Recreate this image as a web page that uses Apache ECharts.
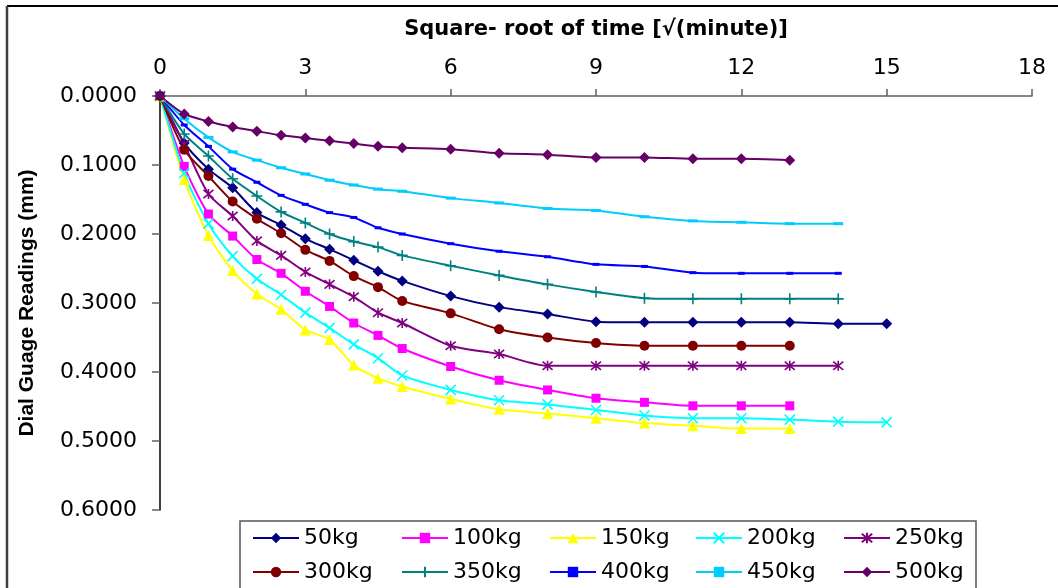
<!DOCTYPE html>
<html>
<head>
<meta charset="utf-8">
<script src="https://cdn.jsdelivr.net/npm/echarts@6/dist/echarts.min.js"></script>
<style>
html,body{margin:0;padding:0;background:#fff;}
#chart{width:1058px;height:588px;}
</style>
</head>
<body>
<div id="chart"></div>
<script>
// Square-root of time values (x)
var sqrtTime = [0,0.5,1,1.5,2,2.5,3,3.5,4,4.5,5,6,7,8,9,10,11,12,13,14,15];
var xTicks = [0,3,6,9,12,15,18];
var yTicks = [0,0.1,0.2,0.3,0.4,0.5,0.6];
var seriesNames = ['50kg','100kg','150kg','200kg','250kg','300kg','350kg','400kg','450kg','500kg'];

var v50  = [0,0.068,0.106,0.133,0.169,0.187,0.207,0.222,0.238,0.254,0.268,0.290,0.306,0.316,0.327,0.328,0.328,0.328,0.328,0.330,0.330];
var v100 = [0,0.102,0.171,0.203,0.237,0.257,0.283,0.305,0.329,0.347,0.366,0.392,0.412,0.426,0.438,0.444,0.449,0.449,0.449];
var v150 = [0,0.121,0.202,0.253,0.287,0.309,0.339,0.353,0.390,0.409,0.421,0.439,0.454,0.460,0.467,0.474,0.478,0.482,0.482];
var v200 = [0,0.112,0.185,0.232,0.265,0.288,0.314,0.336,0.360,0.380,0.405,0.426,0.441,0.447,0.455,0.463,0.467,0.467,0.469,0.472,0.473];
var v250 = [0,0.070,0.142,0.174,0.210,0.231,0.255,0.273,0.291,0.314,0.329,0.362,0.374,0.391,0.391,0.391,0.391,0.391,0.391,0.391];
var v300 = [0,0.078,0.116,0.153,0.178,0.199,0.223,0.239,0.261,0.277,0.297,0.315,0.338,0.350,0.358,0.362,0.362,0.362,0.362];
var v350 = [0,0.055,0.087,0.120,0.145,0.168,0.184,0.200,0.211,0.219,0.231,0.246,0.260,0.273,0.284,0.293,0.294,0.294,0.294,0.294];
var v400 = [0,0.042,0.073,0.106,0.125,0.144,0.157,0.169,0.176,0.191,0.200,0.214,0.225,0.233,0.244,0.247,0.256,0.257,0.257,0.257];
var v450 = [0,0.033,0.060,0.081,0.093,0.104,0.113,0.122,0.129,0.135,0.138,0.148,0.155,0.163,0.166,0.175,0.181,0.183,0.185,0.185];
var v500 = [0,0.026,0.037,0.045,0.051,0.057,0.061,0.065,0.069,0.073,0.075,0.077,0.083,0.085,0.089,0.089,0.091,0.091,0.093];

var allValues = [v50,v100,v150,v200,v250,v300,v350,v400,v450,v500];
var colors = ['#000080','#FF00FF','#FFFF00','#00FFFF','#800080','#800000','#008080','#0000FF','#00CCFF','#660066'];
var symbols = ['diamond','rect','triangle',
  'path://M0,0L10,10M10,0L0,10',
  'path://M0,0L10,10M10,0L0,10M5,-1L5,11',
  'circle',
  'path://M5,0L5,10M0,5L10,5',
  'rect','rect','diamond'];
var symbolSizes = [11,9,11,10,10,10,11,[7,3],[10,3],11];
var strokeOnly = [false,false,false,true,true,false,true,false,false,false];

function pairs(vals){
  var out=[];
  for(var i=0;i<vals.length;i++){ out.push([sqrtTime[i], vals[i]]); }
  return out;
}

var series = seriesNames.map(function(n,i){
  var it = {color: colors[i]};
  if(strokeOnly[i]){ it = {color: colors[i], borderColor: colors[i], borderWidth: 1.6}; }
  return {
    name:n, type:'line', data: pairs(allValues[i]),
    smooth:0.25, symbol: symbols[i], symbolSize: symbolSizes[i],
    showAllSymbol:true,
    lineStyle:{color:colors[i], width:2},
    itemStyle: it,
    emphasis:{disabled:true}
  };
});

var legendLeft = [252,401,549,695,843];
var legendTop = [527,561];
var legends = seriesNames.map(function(n,i){
  return {
    data:[n], left: legendLeft[i%5], top: legendTop[Math.floor(i/5)],
    itemWidth:46, itemHeight:13, itemGap:0, padding:0, itemTextGap:8,
    selectedMode:false,
    textStyle:{fontSize:22, fontFamily:'DejaVu Sans', color:'#000'}
  };
});

var chart = echarts.init(document.getElementById('chart'));
chart.setOption({
  animation:false,
  backgroundColor:'#fff',
  grid:{left:160, right:26, top:96, bottom:78},
  legend: legends,
  xAxis:{
    type:'value', position:'top', min:xTicks[0], max:xTicks[xTicks.length-1], interval:3,
    name:'Square- root of time [\u221A(minute)]', nameLocation:'middle', nameGap:56,
    nameTextStyle:{fontSize:21, fontWeight:'bold', fontFamily:'DejaVu Sans', color:'#000'},
    axisLine:{lineStyle:{color:'#606060', width:1.5}},
    axisTick:{length:7, lineStyle:{color:'#606060', width:1.5}},
    axisLabel:{fontSize:22, fontFamily:'DejaVu Sans', color:'#000', margin:17},
    splitLine:{show:false}
  },
  yAxis:{
    type:'value', inverse:true, min:yTicks[0], max:yTicks[yTicks.length-1], interval:0.1,
    name:'Dial Guage Readings (mm)', nameLocation:'middle', nameGap:122,
    nameTextStyle:{fontSize:21, fontWeight:'bold', fontFamily:'Liberation Sans', color:'#000'},
    axisLine:{show:true, lineStyle:{color:'#000', width:1.5}},
    axisTick:{show:true, length:8, lineStyle:{color:'#606060', width:1.5}},
    axisLabel:{fontSize:22, fontFamily:'DejaVu Sans', color:'#000', margin:23,
      formatter:function(v){return v.toFixed(4);}},
    splitLine:{show:false}
  },
  graphic:[
    {type:'line', shape:{x1:7,y1:6,x2:1058,y2:6}, style:{stroke:'#000', lineWidth:2}, z:100},
    {type:'line', shape:{x1:7,y1:6,x2:7,y2:588}, style:{stroke:'#404040', lineWidth:2.5}, z:100},
    {type:'rect', shape:{x:240,y:521,width:736,height:90}, style:{fill:'none', stroke:'#555', lineWidth:1.5}, z:100}
  ],
  series: series
});
</script>
</body>
</html>
